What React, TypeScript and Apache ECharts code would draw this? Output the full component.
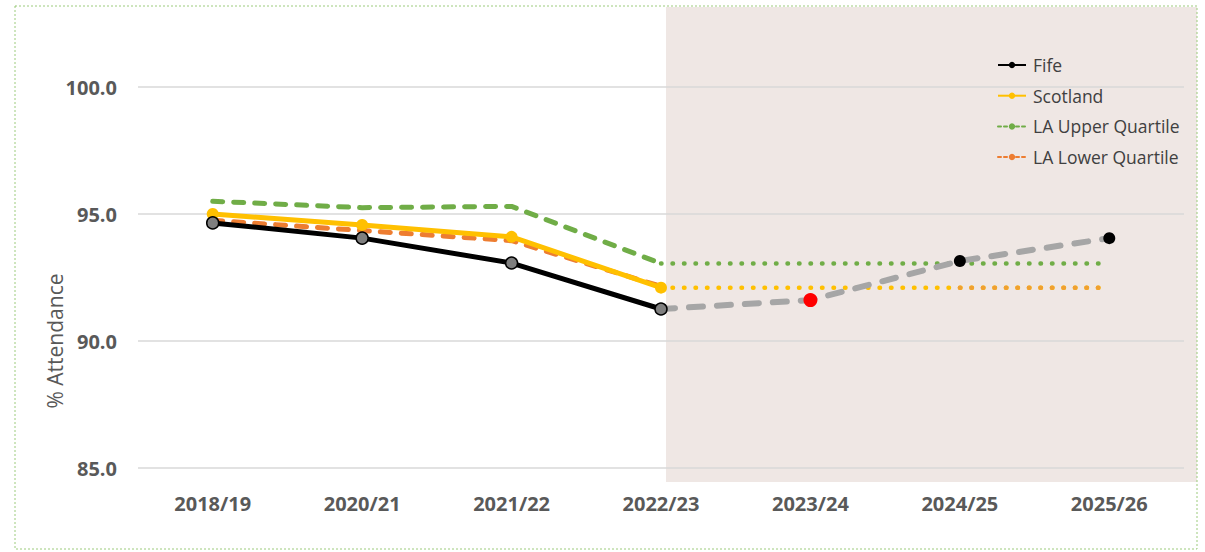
import React, { useEffect, useRef } from "react";
import * as echarts from "echarts";

const categories = ["2018/19", "2020/21", "2021/22", "2022/23", "2023/24", "2024/25", "2025/26"];
const fife = [94.65, 94.05, 93.07, 91.26, null, null, null];
const fifeProjection = [null, null, null, 91.26, 91.61, 93.15, 94.05];
const scotland = [95.0, 94.57, 94.1, 92.1, null, null, null];
const scotlandTarget = [null, null, null, 92.1, 92.1, 92.1, 92.1];
const upperQuartile = [95.5, 95.25, 95.3, 93.05, null, null, null];
const upperTarget = [null, null, null, 93.05, 93.05, 93.05, 93.05];
const lowerQuartile = [94.75, 94.35, 93.95, 92.15, null, null, null];
const lowerTarget = [null, null, null, null, null, 92.1, 92.1];
const projectionColors = [null, null, null, "transparent", "#ff0000", "#000000", "#000000"];
const yTicks = { min: 85, max: 100, interval: 5 };

const FONT = "'Open Sans', sans-serif";

export default function App() {
  const ref = useRef<HTMLDivElement>(null);
  useEffect(() => {
    if (!ref.current) return;
    const chart = echarts.init(ref.current, undefined, { renderer: "svg" });
    const projData = fifeProjection.map((v, i) => ({
      value: v,
      symbolSize: i === 4 ? 14 : 12,
      itemStyle: { color: projectionColors[i] || "transparent", borderWidth: 0 },
    }));
    chart.setOption({
      animation: false,
      backgroundColor: "#ffffff",
      grid: { left: 138, right: 21, top: 87, bottom: 84 },
      graphic: [
        {
          type: "rect",
          z: -10,
          shape: { x: 666, y: 7, width: 531, height: 475 },
          style: { fill: "#efe7e4" },
          silent: true,
        },
        {
          type: "rect",
          z: 100,
          shape: { x: 15, y: 6, width: 1182, height: 543 },
          style: { fill: "none", stroke: "#9ccb7c", lineWidth: 1, lineDash: [2, 2] },
          silent: true,
        },
        {
          type: "text",
          x: 55,
          y: 341,
          rotation: Math.PI / 2,
          style: {
            text: "% Attendance",
            fill: "#595959",
            font: `21px ${FONT}`,
            align: "center",
            verticalAlign: "middle",
          },
        },
      ],
      legend: {
        orient: "vertical",
        left: 992,
        top: 50,
        itemWidth: 28,
        itemHeight: 8,
        itemGap: 10.7,
        textStyle: {
          fontFamily: FONT,
          fontSize: 17.5,
          lineHeight: 20,
          color: "#404040",
          padding: [0, 0, 0, 2],
        },
        data: [
          { name: "Fife", itemStyle: { color: "#000000", borderWidth: 0 }, lineStyle: { width: 2, color: "#000000" } },
          { name: "Scotland", lineStyle: { width: 2 } },
          { name: "LA Upper Quartile", lineStyle: { width: 2, type: [3, 3] } },
          { name: "LA Lower Quartile", lineStyle: { width: 2, type: [3, 3] } },
        ],
      },
      xAxis: {
        type: "category",
        data: categories,
        boundaryGap: true,
        axisLine: { show: false },
        axisTick: { show: false },
        axisLabel: {
          margin: 25,
          fontFamily: FONT,
          fontSize: 20,
          fontWeight: "bold",
          color: "#595959",
        },
      },
      yAxis: {
        type: "value",
        min: yTicks.min,
        max: yTicks.max,
        interval: yTicks.interval,
        axisLine: { show: false },
        axisTick: { show: false },
        splitLine: { lineStyle: { color: "#d9d9d9", width: 1.5 } },
        axisLabel: {
          margin: 21,
          fontFamily: FONT,
          fontSize: 20,
          fontWeight: "bold",
          color: "#595959",
          formatter: (v: number) => v.toFixed(1),
        },
      },
      series: [
        {
          name: "LA Upper Quartile",
          type: "line",
          data: upperQuartile,
          symbol: "circle",
          symbolSize: 8,
          showSymbol: false,
          color: "#70ad47",
          lineStyle: { width: 5, type: [10, 11], cap: "round", color: "#70ad47" },
          z: 2,
        },
        {
          name: "upperTarget",
          type: "line",
          data: upperTarget,
          showSymbol: false,
          lineStyle: { width: 4.5, type: [0.5, 11], cap: "round", color: "#70ad47" },
          z: 2,
        },
        {
          name: "LA Lower Quartile",
          type: "line",
          data: lowerQuartile,
          symbol: "circle",
          symbolSize: 8,
          showSymbol: false,
          color: "#ed7d31",
          lineStyle: { width: 5, type: [10, 11], cap: "round", color: "#ed7d31" },
          z: 3,
        },
        {
          name: "scotlandTarget",
          type: "line",
          data: scotlandTarget,
          showSymbol: false,
          lineStyle: { width: 4.5, type: [0.5, 11], cap: "round", color: "#ffc000" },
          z: 3,
        },
        {
          name: "lowerTarget",
          type: "line",
          data: lowerTarget,
          showSymbol: false,
          lineStyle: { width: 4.5, type: [0.5, 11], cap: "round", color: "#f0a030" },
          z: 3,
        },
        {
          name: "Scotland",
          type: "line",
          data: scotland,
          symbol: "circle",
          symbolSize: 12,
          color: "#ffc000",
          itemStyle: { color: "#ffc000" },
          lineStyle: { width: 5, color: "#ffc000" },
          z: 4,
        },
        {
          name: "projection",
          type: "line",
          data: projData,
          symbol: "circle",
          showAllSymbol: true,
          lineStyle: { width: 6, type: [14, 14], cap: "round", color: "#a6a6a6" },
          z: 5,
        },
        {
          name: "Fife",
          type: "line",
          data: fife,
          symbol: "circle",
          symbolSize: 12,
          color: "#000000",
          itemStyle: { color: "#7f7f7f", borderColor: "#000000", borderWidth: 1.5 },
          lineStyle: { width: 5, color: "#000000" },
          z: 6,
        },
      ],
    });
    return () => chart.dispose();
  }, []);
  return (
    <div
      ref={ref}
      style={{ position: "absolute", left: 0, top: 0, width: 1205, height: 552 }}
    />
  );
}
